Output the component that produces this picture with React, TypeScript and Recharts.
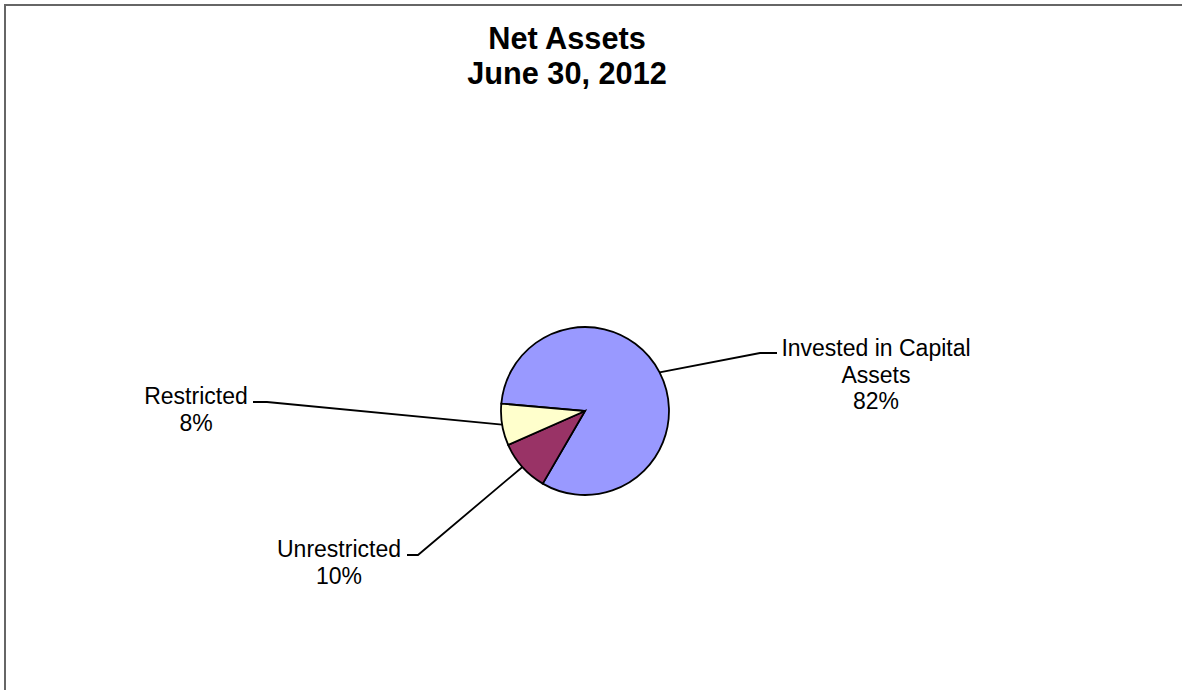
import React from 'react';
import { PieChart, Pie, Cell } from 'recharts';

const categories = ['Invested in Capital Assets', 'Unrestricted', 'Restricted'];
const categoryLines = [['Invested in Capital', 'Assets'], ['Unrestricted'], ['Restricted']];
const values = [82, 10, 8];
const percentLabels = ['82%', '10%', '8%'];
const colors = ['#9999FF', '#993366', '#FFFFCC'];
const titleLines = ['Net Assets', 'June 30, 2012'];

// label placement offsets relative to pie centre (layout only)
const labelLayout = [
  { elbow: [175, -58], end: [192, -58], textX: 291, baseY: -55 },
  { elbow: [-167, 144], end: [-178, 144], textX: -246, baseY: 146 },
  { elbow: [-318, -9], end: [-332, -9], textX: -389, baseY: -7 },
];

const data = categories.map((name, i) => ({ name, value: values[i] }));
const FONT = '"Liberation Sans", Arial, Helvetica, sans-serif';
const RAD = Math.PI / 180;

const renderLabel = (props: any) => {
  const { cx, cy, midAngle, outerRadius, index } = props;
  const lay = labelLayout[index];
  const sx = cx + outerRadius * Math.cos(-midAngle * RAD);
  const sy = cy + outerRadius * Math.sin(-midAngle * RAD);
  const ex = cx + lay.elbow[0];
  const ey = cy + lay.elbow[1];
  const fx = cx + lay.end[0];
  const fy = cy + lay.end[1];
  const lines = [...categoryLines[index], percentLabels[index]];
  return (
    <g key={`lbl-${index}`}>
      <path d={`M${sx},${sy}L${ex},${ey}L${fx},${fy}`} stroke="#000" strokeWidth={1.8} fill="none" />
      {lines.map((t, j) => (
        <text
          key={j}
          x={cx + lay.textX}
          y={cy + lay.baseY + j * 26.7}
          textAnchor="middle"
          fontFamily={FONT}
          fontSize={23}
          fill="#000"
        >
          {t}
        </text>
      ))}
    </g>
  );
};

export default function App() {
  return (
    <div style={{ position: 'absolute', left: 0, top: 0, width: 1182, height: 690, background: '#fff', overflow: 'hidden' }}>
      <div
        style={{
          position: 'absolute',
          left: 4,
          top: 4,
          width: 1190,
          height: 700,
          borderLeft: '2px solid #666',
          borderTop: '2px solid #666',
        }}
      />
      <div style={{ position: 'absolute', left: 0, top: 0 }}>
        <PieChart width={1182} height={690} margin={{ top: 0, right: 0, bottom: 0, left: 0 }}>
          <text x={567} y={49} textAnchor="middle" fontFamily={FONT} fontSize={30.7} fontWeight="bold" fill="#000">
            {titleLines[0]}
          </text>
          <text x={567} y={84} textAnchor="middle" fontFamily={FONT} fontSize={30.7} fontWeight="bold" fill="#000">
            {titleLines[1]}
          </text>
          <Pie
            data={data}
            dataKey="value"
            nameKey="name"
            cx={585}
            cy={411}
            outerRadius={84}
            startAngle={175}
            endAngle={-185}
            stroke="#000"
            strokeWidth={1.8}
            label={renderLabel}
            labelLine={false}
            isAnimationActive={false}
          >
            {data.map((d, i) => (
              <Cell key={d.name} fill={colors[i]} />
            ))}
          </Pie>
        </PieChart>
      </div>
    </div>
  );
}
